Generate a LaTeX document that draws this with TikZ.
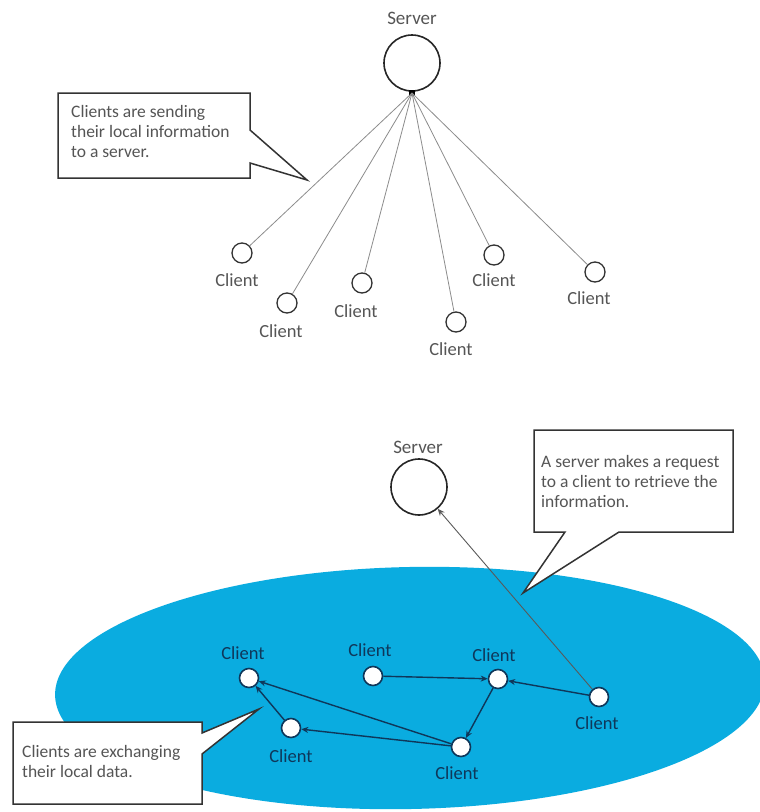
\documentclass[tikz,border=0pt]{standalone}
\usepackage{fontspec}
\setmainfont{Carlito}
\usetikzlibrary{arrows.meta}
\definecolor{sky}{RGB}{10,172,224}
\definecolor{navy}{RGB}{15,55,90}
\definecolor{txtgray}{RGB}{85,85,85}
\begin{document}
\begin{tikzpicture}[x=1pt,y=-1pt,
 srv/.style={circle,draw=black!85,line width=1.6pt,minimum size=56pt,inner sep=0pt},
 cl/.style={circle,draw=black!80,line width=1.3pt,minimum size=20pt,inner sep=0pt},
 bcl/.style={circle,draw=navy,fill=white,line width=1.6pt,minimum size=19pt,inner sep=0pt},
 lbl/.style={font=\fontsize{18.5}{20}\selectfont,text=txtgray,inner sep=0pt},
 slbl/.style={font=\fontsize{19}{20}\selectfont,text=txtgray,inner sep=0pt},
 blbl/.style={font=\fontsize{18.5}{20}\selectfont,text=navy,inner sep=0pt},
 ctext/.style={font=\fontsize{17.5}{20}\selectfont,text=txtgray,align=left,inner sep=0pt,anchor=north west},
 callout/.style={draw=black!80,line width=1.5pt,fill=white,line join=miter},
 spoke/.style={draw=black!45,line width=0.8pt},
 link/.style={draw=navy,line width=1.4pt,-{Stealth[length=7pt,width=6pt]}},
 req/.style={draw=black!65,line width=0.9pt,-{Stealth[length=7pt,width=6pt]}},
]
\clip (0,0) rectangle (760,812);
\fill[white] (0,0) rectangle (760,812);

% ---------- top: clients sending to server ----------
\node[slbl] (srvlabA) at (412,18) {Server};
\node[srv] (srvA) at (412,63) {};
\node[fill=black,minimum size=6pt,inner sep=0pt] (hub) at (412,93) {};

\node[cl] (t1) at (242,253) {};
\node[cl] (t2) at (287,303) {};
\node[cl] (t3) at (362,283) {};
\node[cl] (t4) at (456,322) {};
\node[cl] (t5) at (494,255) {};
\node[cl] (t6) at (595,272) {};
\node[lbl] (t1l) at (237,280) {Client};
\node[lbl] (t2l) at (281,331) {Client};
\node[lbl] (t3l) at (356,311) {Client};
\node[lbl] (t4l) at (451,349) {Client};
\node[lbl] (t5l) at (494,280) {Client};
\node[lbl] (t6l) at (589,298) {Client};
\foreach \c in {t1,t2,t3,t4,t5,t6} \draw[spoke] (hub.center) -- (\c);

\draw[callout] (58,93) -- (250,93) -- (250,130) -- (307,180) -- (250,163) -- (250,178) -- (58,178) -- cycle;
\node[ctext] (noteA) at (71,105) {Clients are sending\\their local information\\to a server.};

% ---------- bottom: clients exchanging ----------
\fill[sky,rotate around={1.2:(410,688)}] (410,688) ellipse [x radius=355, y radius=121];

\node[slbl] (srvlabB) at (418,447) {Server};
\node[srv] (srvB) at (419,487) {};

\node[bcl] (ba) at (249,678) {};
\node[bcl] (bb) at (373,676) {};
\node[bcl] (bc) at (498,679) {};
\node[bcl] (bd) at (599,697) {};
\node[bcl] (be) at (291,728) {};
\node[bcl] (bf) at (461,747) {};
\node[blbl] (bal) at (243,653) {Client};
\node[blbl] (bbl) at (370,650) {Client};
\node[blbl] (bcl) at (494,655) {Client};
\node[blbl] (bdl) at (597,723) {Client};
\node[blbl] (bel) at (291,756) {Client};
\node[blbl] (bfl) at (457,773) {Client};

\draw[link] (bb) -- (bc);
\draw[link] (bd) -- (bc);
\draw[link] (bc) -- (bf);
\draw[link] (bf) -- (ba);
\draw[link] (bf) -- (be);
\draw[link] (be) -- (ba);
\draw[req] (bd) -- (srvB);

\draw[callout] (534,430) -- (733,430) -- (733,532) -- (619,532) -- (523,593) -- (565,532) -- (534,532) -- cycle;
\node[ctext] (noteB) at (541,455) {A server makes a request\\to a client to retrieve the\\information.};

\draw[callout] (13,722) -- (202,722) -- (202,733) -- (259,709) -- (202,754) -- (202,804) -- (13,804) -- cycle;
\node[ctext] (noteC) at (22,745) {Clients are exchanging\\their local data.};
\end{tikzpicture}
\end{document}
